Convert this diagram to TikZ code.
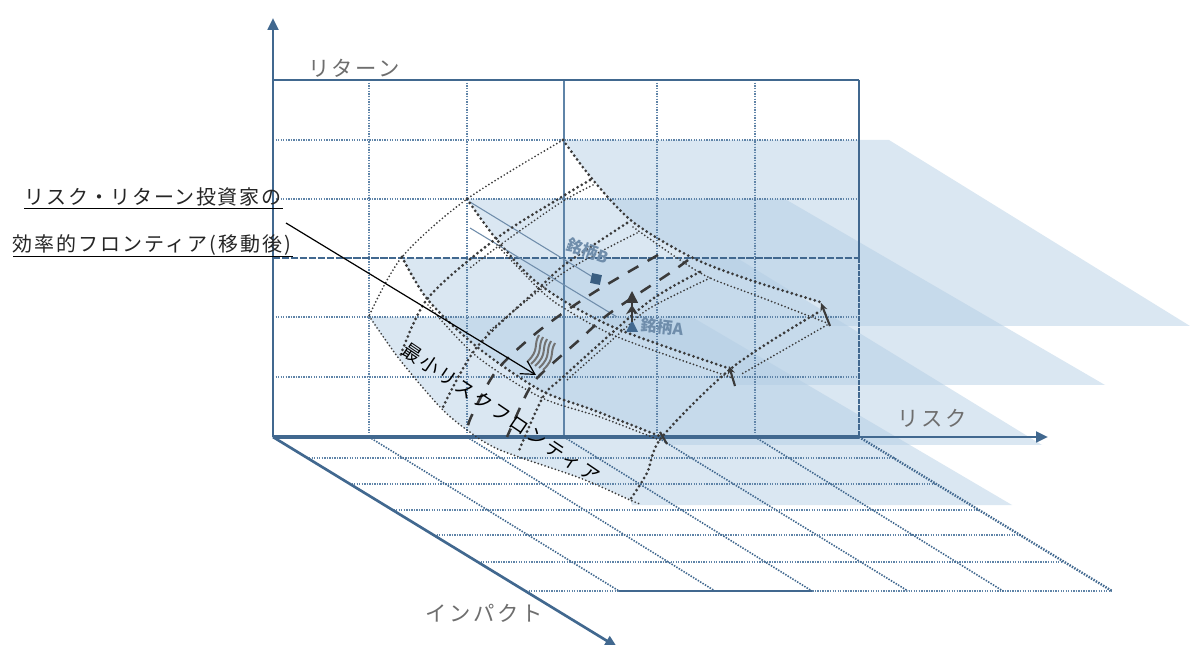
\documentclass[tikz,border=0pt]{standalone}
\usepackage{fontspec}
\setmainfont{Noto Sans CJK JP}
\usetikzlibrary{arrows.meta}
\definecolor{axisblue}{HTML}{41688F}
\definecolor{gridblue}{HTML}{5F84A8}
\definecolor{planeblue}{RGB}{178,205,228}
\definecolor{surf}{HTML}{3A3A3A}
\definecolor{stock}{HTML}{6F8DAB}
\definecolor{labelgray}{HTML}{6E6E6E}
\newfontfamily\jplab[LetterSpace=8]{Noto Sans CJK JP}
\newfontfamily\jplabb[LetterSpace=10]{Noto Sans CJK JP}
\newfontfamily\jpax[LetterSpace=12]{Noto Sans CJK JP}
\newfontfamily\jpfront[LetterSpace=14]{Noto Sans CJK JP}
\tikzset{
  plane/.style={fill=planeblue,fill opacity=.48,draw=none},
  griddot/.style={draw=gridblue,line width=1.15pt,dash pattern=on 1pt off .9pt},
  gridthin/.style={draw=gridblue,line width=.95pt,dash pattern=on 1pt off 1pt},
  griddash/.style={draw=axisblue,line width=1.4pt,dash pattern=on 5.5pt off 1.2pt},
  floordiag/.style={draw=axisblue,line width=1.2pt,dash pattern=on 1.1pt off 1pt},
  axisline/.style={draw=axisblue,line width=2pt},
  axishead/.style={-{Triangle[length=9pt,width=8pt]}},
  thickdot/.style={draw=surf,line width=2.3pt,line cap=round,dash pattern=on 0pt off 3.6pt},
  thindot/.style={draw=surf,line width=1.45pt,line cap=round,dash pattern=on 0pt off 2.7pt},
  thickdash/.style={draw=surf,line width=1.9pt,dash pattern=on 9pt off 8pt},
  tickarrow/.style={draw=surf,line width=1.6pt,-{Stealth[length=6pt,width=5.5pt]}},
  stockline/.style={draw=stock,line width=.8pt},
  axlabel/.style={text=labelgray,font=\jpax\fontsize{16}{18}\selectfont,inner sep=0pt},
  mainlabel/.style={text=black!85,font=\jplab\fontsize{15}{17}\selectfont,inner sep=0pt},
  mainlabelb/.style={text=black!85,font=\jplabb\fontsize{15}{17}\selectfont,inner sep=0pt},
  stocklabel/.style={text=stock,font=\bfseries\fontsize{12}{13}\selectfont,inner sep=0pt},
  wave/.style={draw=black!55,line width=1.5pt}
}
\begin{document}
\begin{tikzpicture}[x=.75pt,y=-.75pt]
\path[use as bounding box] (0,0) rectangle (1190,645);
\clip (0,0) rectangle (1190,645);
\fill[white] (0,0) rectangle (1190,645);
% coordinates of the axes
\coordinate (O) at (273,437);
\coordinate (Yend) at (273,18);
\coordinate (Xend) at (1048,437);
\coordinate (Xmid) at (859,437);
\coordinate (Zend) at (617,647);
\coordinate (TL) at (273,80);
\coordinate (TR) at (859,80);
% planes
\path[plane] plot[smooth,tension=.5] coordinates {(563,140) (593,180) (633,222) (693,258) (750,280) (820,303)} -- (830,326) -- (1190,326) -- (889,140) -- cycle;
\path[plane] plot[smooth,tension=.5] coordinates {(467,199) (497,240) (540,285) (613,327) (728,368)} -- (735,385) -- (1105,385) -- (785,199) -- cycle;
\path[plane] plot[smooth,tension=.5] coordinates {(402,258) (428,300) (477,347) (540,390) (593,410) (662,437)} -- (668,445) -- (1042,445) -- (737,258) -- cycle;
\path[plane] plot[smooth,tension=.5] coordinates {(369,317) (400,360) (440,407) (467,430) (500,450) (580,478) (630,500)} -- (632,505) -- (1012,505) -- (692,317) -- cycle;
% back grid
\foreach \x in {369,467,657,755} \draw[gridthin] (\x,80) -- (\x,437);
\draw[draw=gridblue,line width=1pt] (564,80) -- (564,437);
\foreach \y in {140,199,317,377} \draw[griddot] (273,\y) -- (859,\y);
\draw[griddash] (273,258) -- (859,258);
% floor grid
\foreach \l/\r/\y in {309/895/458,349/935/484,391/980/510,434/1021/535,478/1062/562} \draw[griddot] (\l,\y) -- (\r,\y);
\draw[griddot] (526,591) -- (1112,591);
\draw[draw=axisblue,line width=1.3pt] (619,591) -- (812,591);
\foreach \a/\b in {369/619,467/715,564/812,657/908,755/1003} \draw[floordiag] (\a,437) -- (\b,591);
\draw[floordiag,line width=1.8pt] (859,437) -- (1112,591);
% frame and axes
\draw[draw=axisblue,line width=1.4pt] (TL) -- (TR);
\draw[draw=axisblue,line width=1.7pt] (TR) -- (859,258);
\draw[draw=axisblue,line width=2pt,dash pattern=on 4pt off .8pt] (859,258) -- (Xmid);
\draw[axisline,axishead] (O) -- (Yend);
\draw[axisline,line width=2.8pt] (O) -- (Xmid);
\draw[axisline,axishead] (Xmid) -- (Xend);
\draw[axisline,axishead] (O) -- (Zend);
% stock lines
\coordinate (Bsq) at (596,279);
\coordinate (Atri) at (632,326);
\coordinate (S1) at (470,202);
\coordinate (S2) at (470,228);
\coordinate (S3) at (617,317);
\draw[stockline] (S1) -- (Bsq);
\draw[stockline] (S2) -- (S3);
% surface: thin outer edges
\draw[thindot] plot[smooth,tension=.5] coordinates {(563,140) (467,199) (402,257) (369,316)};
\draw[thindot] plot[smooth,tension=.5] coordinates {(369,316) (400,360) (440,407) (467,430) (500,450) (580,478) (630,500) (640,504)};
% surface: long curves
\draw[thickdot] plot[smooth,tension=.5] coordinates {(563,140) (593,180) (633,222) (693,258) (750,280) (820,302)};
\draw[thindot] plot[smooth,tension=.5] coordinates {(633,227) (680,260) (710,278) (760,297) (827,323)};
\draw[thickdot] plot[smooth,tension=.5] coordinates {(467,199) (497,240) (540,285) (613,327) (728,368)};
\draw[thindot] plot[smooth,tension=.5] coordinates {(497,245) (540,290) (567,310) (620,338) (733,378)};
\draw[thickdot] plot[smooth,tension=.5] coordinates {(402,257) (428,300) (477,347) (540,390) (593,410) (662,437)};
\draw[thindot] plot[smooth,tension=.5] coordinates {(428,305) (475,355) (540,397) (600,417) (662,441)};
% surface: cross curves
\draw[thickdot] plot[smooth,tension=.5] coordinates {(590,180) (560,198) (497,238) (428,298) (400,357)};
\draw[thindot] plot[smooth,tension=.5] coordinates {(593,185) (560,203) (500,245) (470,268)};
\draw[thickdot] plot[smooth,tension=.5] coordinates {(627,223) (567,263) (540,287) (477,347) (443,407)};
\draw[thindot] plot[smooth,tension=.5] coordinates {(637,233) (563,273) (487,333)};
\draw[thickdash] plot[smooth,tension=.5] coordinates {(658,255) (593,293) (540,330) (497,370) (472,415) (467,430)};
\draw[thickdash] plot[smooth,tension=.5] coordinates {(688,260) (670,273) (610,313) (577,342) (540,375) (527,393) (507,437)};
\draw[thickdot] plot[smooth,tension=.5] coordinates {(700,272) (647,303) (563,377) (543,397) (518,453)};
\draw[thindot] plot[smooth,tension=.5] coordinates {(710,278) (650,308) (620,333) (567,380)};
\draw[thickdot] plot[smooth,tension=.5] coordinates {(817,313) (733,367) (662,437) (647,473) (630,500)};
\draw[thindot] plot[smooth,tension=.5] coordinates {(827,325) (740,375)};
% end ticks
\coordinate (T1a) at (830,326); \coordinate (T1b) at (821,303);
\coordinate (T2a) at (735,386); \coordinate (T2b) at (729,366);
\coordinate (T3a) at (667,444); \coordinate (T3b) at (660,432);
\draw[tickarrow] (T1a) -- (T1b);
\draw[tickarrow] (T2a) -- (T2b);
\draw[tickarrow,-] (T3a) -- (T3b);
% stripes
\foreach \i in {0,1,2,3,4}
  \draw[wave] ({539+4*\i},{335+2*\i}) .. controls ({533+4*\i},{345+2*\i}) and ({540+4*\i},{350+2*\i}) .. ({527+4*\i},{362+2*\i});
% stocks
\node[fill=axisblue!90!black,minimum size=7.5pt,inner sep=0pt,rotate=-12] (sqB) at (Bsq) {};
\fill[axisblue] (632,320) -- (638,332) -- (626,332) -- cycle;
\coordinate (Aup) at (632,291);
\coordinate (Amid) at (632,305);
\coordinate (Abase) at (632,322);
\draw[draw=surf,line width=1.1pt,-{Triangle[length=9pt,width=9pt]}] (Abase) -- (Aup);
\draw[draw=surf,line width=1.1pt,-{Stealth[length=7pt,width=9pt]}] (Abase) -- (Amid);
\node[stocklabel,rotate=-20] (lb) at (588,251) {銘柄B};
\node[stocklabel,rotate=-6] (la) at (662,327) {銘柄A};
% labels
\node[axlabel] (ly) at (354,68) {リターン};
\node[axlabel] (lx) at (932,418) {リスク};
\node[axlabel] (lz) at (484,613) {インパクト};
\node[mainlabel] (m1) at (153,197) {リスク・リターン投資家の};
\node[mainlabelb] (m2) at (152,245) {効率的フロンティア(移動後)};
\draw[black,line width=1.1pt] (24,208.5) -- (283,208.5);
\draw[black,line width=1.1pt] (13,256.5) -- (293,256.5);
\coordinate (Ls) at (286,223);
\coordinate (Le) at (536,375);
\draw[black,line width=.9pt,-{Straight Barb[length=10pt,width=11pt]}] (Ls) -- (Le);
\node[text=black,font=\jpfront\fontsize{14.2}{16}\selectfont,inner sep=0pt,rotate=-34] (mf) at (501,413) {最小リスクフロンティア};
\end{tikzpicture}
\end{document}
